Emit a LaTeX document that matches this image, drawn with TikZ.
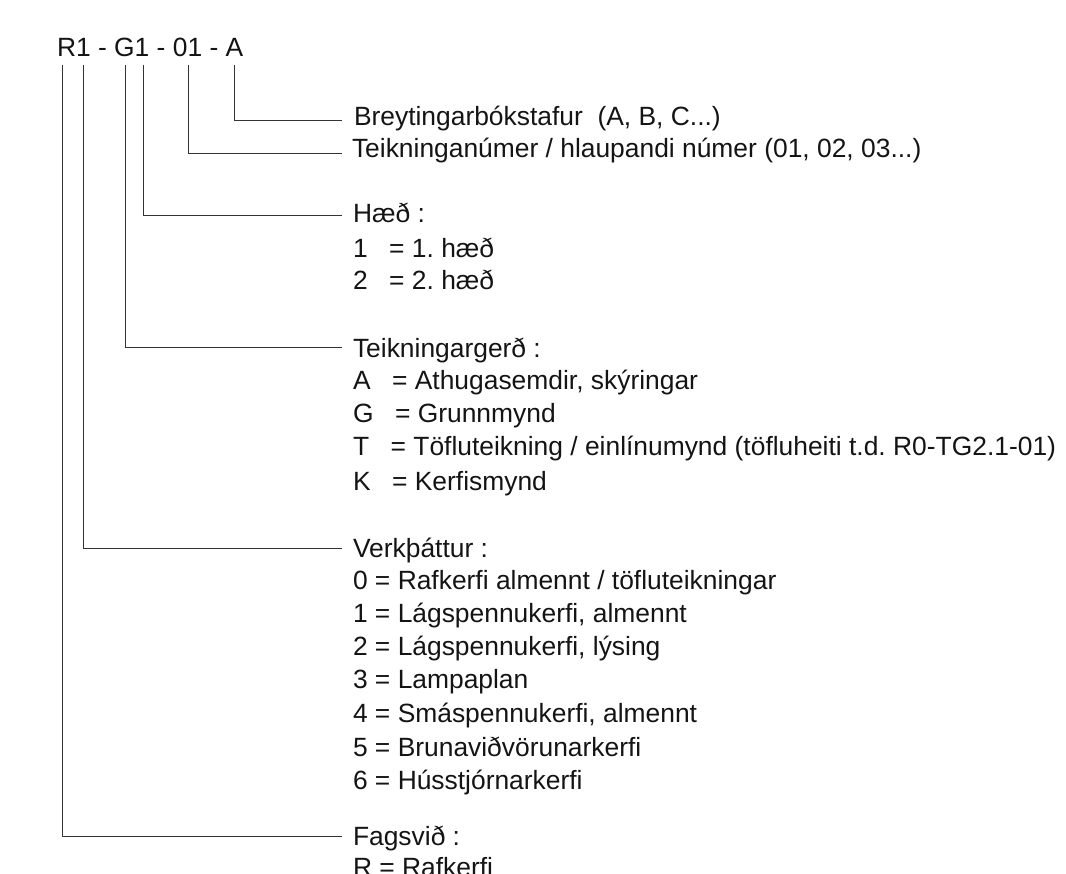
\documentclass[tikz,border=0pt]{standalone}
\usepackage{fontspec}
\setmainfont{Liberation Sans}
\newcommand{\eqgap}{\hspace{21.5pt}}
\tikzset{
  x=1pt,y=-1pt,
  lab/.style={anchor=base west,inner sep=0pt,outer sep=0pt,font=\fontsize{26.4}{30}\selectfont\frenchspacing,text=black!92},
  ldr/.style={draw=black!80,line width=1pt},
}
\begin{document}
\begin{tikzpicture}
\useasboundingbox (0,0) rectangle (1066,874);
\clip (0,0) rectangle (1066,874);
\node[lab] (code) at (57,57) {R1 - G1 - 01 - A};
\foreach \n/\x in {ca/234,cb/188,cc/143,cd/125,ce/83,cf/62}{\coordinate (\n) at (\x,65);}
\node[lab] (t1) at (354,126) {Breytingarbókstafur\ \ (A, B, C...)};
\node[lab] (t2) at (352,158) {Teikninganúmer / hlaupandi númer (01, 02, 03...)};
\node[lab] (t3) at (353,223) {Hæð :};
\node[lab] (h1) at (353,258) {1\eqgap= 1. hæð};
\node[lab] (h2) at (353,290) {2\eqgap= 2. hæð};
\node[lab] (t4) at (353,358) {Teikningargerð :};
\node[lab] (g1) at (353,390) {A\eqgap= Athugasemdir, skýringar};
\node[lab] (g2) at (353,423) {G\eqgap= Grunnmynd};
\node[lab] (g3) at (353,456) {T\eqgap= Töfluteikning / einlínumynd (töfluheiti t.d. R0-TG2.1-01)};
\node[lab] (g4) at (353,490) {K\eqgap= Kerfismynd};
\node[lab] (t5) at (353,557) {Verkþáttur :};
\node[lab] (v0) at (353,589) {0 = Rafkerfi almennt / töfluteikningar};
\node[lab] (v1) at (353,622) {1 = Lágspennukerfi, almennt};
\node[lab] (v2) at (353,655) {2 = Lágspennukerfi, lýsing};
\node[lab] (v3) at (353,688) {3 = Lampaplan};
\node[lab] (v4) at (353,722) {4 = Smáspennukerfi, almennt};
\node[lab] (v5) at (353,756) {5 = Brunaviðvörunarkerfi};
\node[lab] (v6) at (353,789) {6 = Hússtjórnarkerfi};
\node[lab] (t6) at (353,845) {Fagsvið :};
\node[lab] (f1) at (353,876) {R = Rafkerfi};
\foreach \c/\y in {ca/121,cb/153.5,cc/216,cd/348,ce/548,cf/836.5}{
  \coordinate (e\c) at (342,\y);
  \draw[ldr] (\c) |- (e\c);
}
\end{tikzpicture}
\end{document}
